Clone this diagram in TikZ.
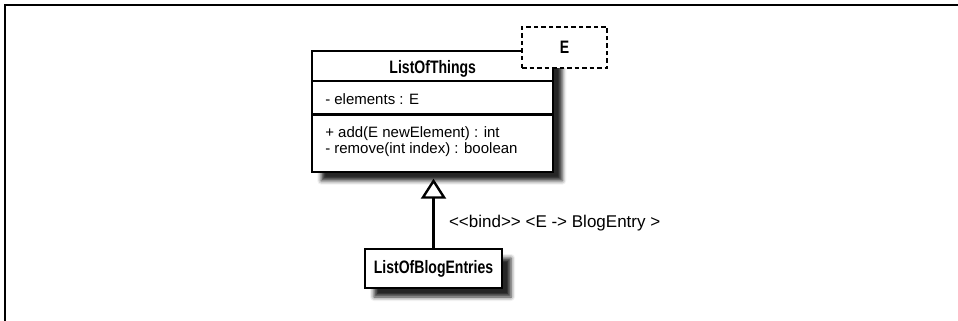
\documentclass[tikz,border=0pt]{standalone}
\usepackage{fontspec}
\setmainfont{Liberation Sans}[BoldFeatures={FakeStretch=0.78}]
\usetikzlibrary{positioning, arrows.meta, shadows.blur, shapes.multipart}

\begin{document}
\begin{tikzpicture}[x=1pt, y=-1pt, line width=2.4pt,
        boxshadow/.style={blur shadow={shadow xshift=9pt, shadow yshift=-9pt,
            shadow blur radius=4pt, shadow opacity=85}},
        umlclass/.style={rectangle split, rectangle split parts=3, draw, fill=white, boxshadow,
            rectangle split draw splits=false,
            rectangle split part align={center, left, left}, align=left,
            minimum width=241pt, inner xsep=13pt, inner ysep=0pt, outer sep=0pt,
            font=\fontsize{15}{16}\selectfont},
        umlbox/.style={draw, fill=white, boxshadow, inner sep=0pt, outer sep=0pt,
            text height=12.9pt, text depth=3pt, font=\bfseries\fontsize{18}{20}\selectfont},
        param/.style={draw, dash pattern=on 4.5pt off 3pt, fill=white, inner sep=0pt,
            minimum width=85pt, minimum height=41pt, font=\bfseries\fontsize{18}{20}\selectfont},
        realizes/.style={-{Triangle[open, fill=white, length=20pt, width=25pt]}, shorten >=7pt}]
    \useasboundingbox (0, 0) rectangle (958, 321);

    % Cadre
    \draw [line width=1.6pt] (5, 321) -- (5, 5) -- (958, 5);

    % Classe generique
    \node [umlclass, anchor=north] (things) at (432.75, 51)
        {\rule[-6pt]{0pt}{27.5pt}{\bfseries\fontsize{18}{20}\selectfont ListOfThings}
         \nodepart{two}\rule[-8.5pt]{0pt}{31pt}- elements : E
         \nodepart{three}\rule{0pt}{22pt}+ add(E newElement) : int\\
            \rule[-17pt]{0pt}{17pt}- remove(int index) : boolean};
    \draw (things.one split west) -- (things.one split east);
    \draw (things.two split west) -- (things.two split east);

    % Parametre
    \node [param] (elemparam) at (564.5, 47.5) {E};

    % Classe liee
    \node [umlbox, minimum width=137pt, minimum height=39pt] (blogentries) at (433.5, 268.5) {ListOfBlogEntries};

    % Liaison
    \draw [realizes] (blogentries.north) -- (blogentries.north |- things.south)
        node [pos=0.282, anchor=base west, xshift=11pt, font=\fontsize{17}{19}\selectfont] (bindlabel)
        {<{}<bind>{}> <E -{}> BlogEntry >};
\end{tikzpicture}
\end{document}
